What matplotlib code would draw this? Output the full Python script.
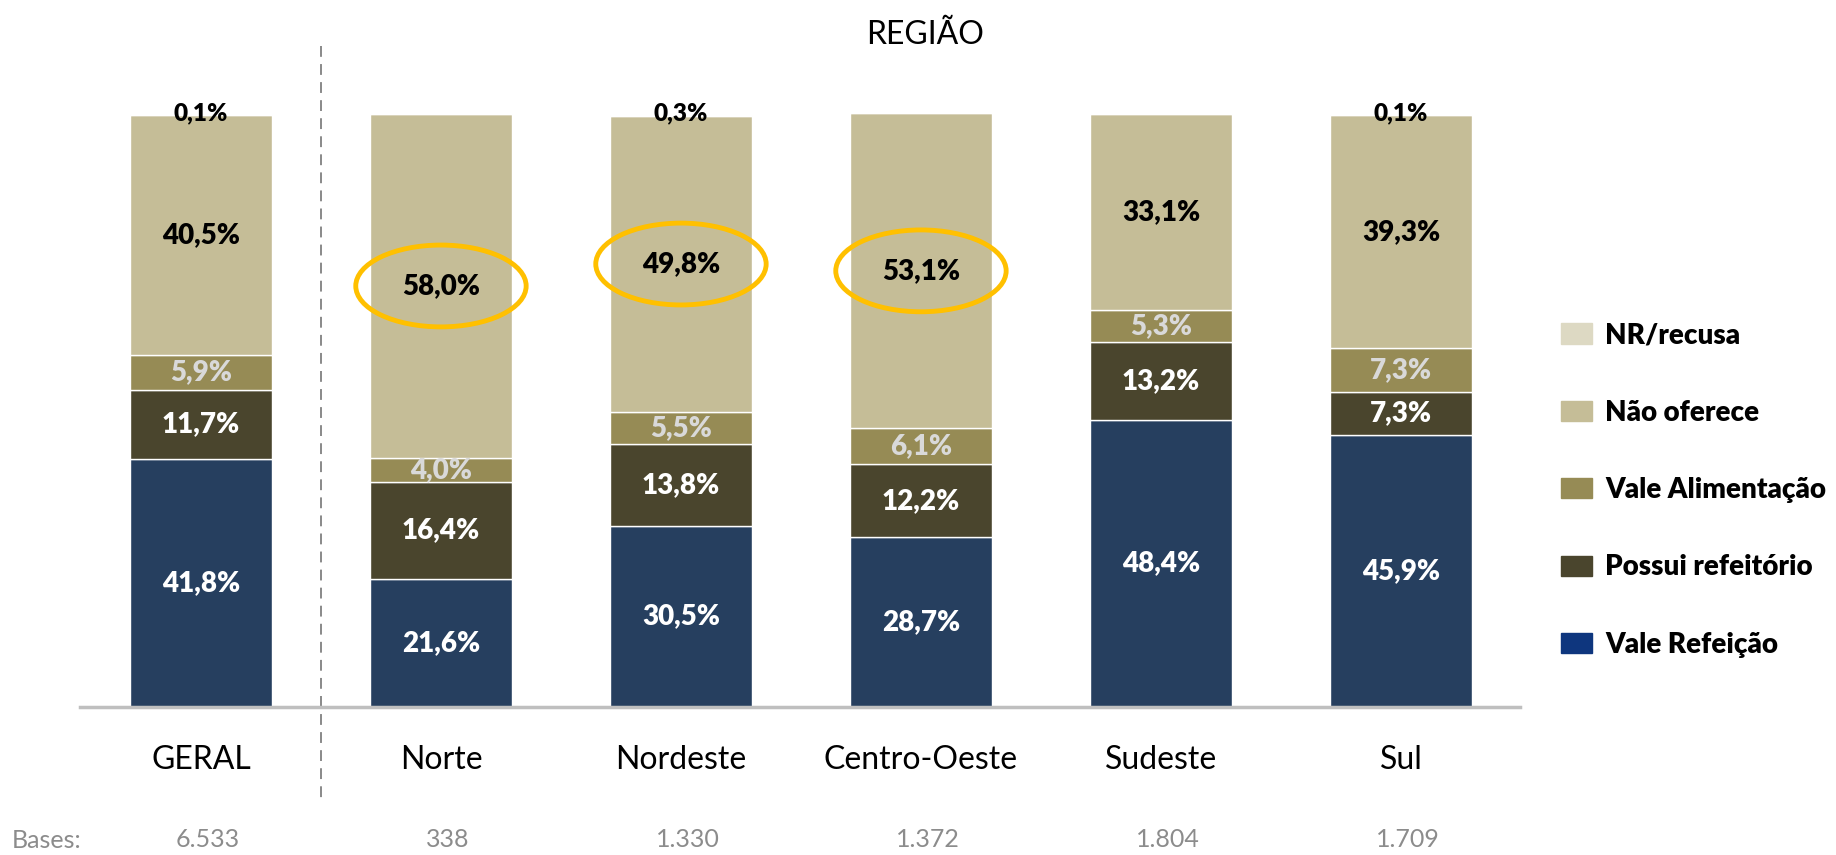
import numpy as np
import matplotlib
matplotlib.use("Agg")
from matplotlib import pyplot as plt
from matplotlib.patches import Ellipse, Patch

plt.rcParams["font.family"] = ["Lato", "DejaVu Sans"]

regioes = ["GERAL", "Norte", "Nordeste", "Centro-Oeste", "Sudeste", "Sul"]
bases = ["6.533", "338", "1.330", "1.372", "1.804", "1.709"]
vale_refeicao = [41.8, 21.6, 30.5, 28.7, 48.4, 45.9]
possui_refeitorio = [11.7, 16.4, 13.8, 12.2, 13.2, 7.3]
vale_alimentacao = [5.9, 4.0, 5.5, 6.1, 5.3, 7.3]
nao_oferece = [40.5, 58.0, 49.8, 53.1, 33.1, 39.3]
nr_recusa = [0.1, 0.0, 0.3, 0.0, 0.0, 0.1]
destaque = ["Norte", "Nordeste", "Centro-Oeste"]

series = [
    ("Vale Refeição", vale_refeicao, "#263F5F", "#0E367E", "white"),
    ("Possui refeitório", possui_refeitorio, "#4A452D", "#4A452D", "white"),
    ("Vale Alimentação", vale_alimentacao, "#968B55", "#968B55", "#D9D9D9"),
    ("Não oferece", nao_oferece, "#C5BD97", "#C5BD97", "black"),
    ("NR/recusa", nr_recusa, "#DDD9C3", "#DDD9C3", "black"),
]

fig = plt.figure(figsize=(18.36, 8.55), dpi=100)
ax = fig.add_axes([80 / 1836, 1 - 707 / 855, 1440 / 1836, 593 / 855])

x = np.arange(len(regioes))
base = np.zeros(len(regioes))
for nome, vals, cor, _, cor_txt in series:
    vals = np.array(vals)
    ax.bar(x, vals, width=0.59, bottom=base, color=cor, edgecolor="white", linewidth=1)
    for i, v in enumerate(vals):
        if v <= 0:
            continue
        txt = f"{v:.1f}%".replace(".", ",")
        if nome == "NR/recusa":
            ax.text(x[i], 100.2, txt, ha="center", va="center", fontsize=17.5,
                    fontweight="heavy", color=cor_txt, clip_on=False)
        else:
            ax.text(x[i], base[i] + v / 2, txt, ha="center", va="center",
                    fontsize=20, fontweight="heavy", color=cor_txt)
        if nome == "Não oferece" and regioes[i] in destaque:
            ax.add_patch(Ellipse((x[i], base[i] + v / 2), 0.71, 13.8, fill=False,
                                 edgecolor="#FFC000", linewidth=3.5, clip_on=False))
    base += vals

ax.set_xlim(-0.504, 5.496)
ax.set_ylim(0, 100)
ax.set_yticks([])
ax.set_xticks(x, regioes, fontsize=23)
ax.tick_params(axis="x", length=0, pad=27)
for s in ["top", "right", "left"]:
    ax.spines[s].set_visible(False)
ax.spines["bottom"].set_color("#BFBFBF")
ax.spines["bottom"].set_linewidth(2.5)

ax.plot([0.5, 0.5], [111.5, -15.3], linestyle=(0, (6, 4)), color="#808080",
        linewidth=1.3, clip_on=False)

for i, b in enumerate(bases):
    ax.text(x[i] + 0.03, -22.4, b, ha="center", va="center", fontsize=18,
            color="#8C8C8C", clip_on=False)
fig.text(12 / 1836, 1 - 840 / 855, "Bases:", ha="left", va="center", fontsize=18,
         color="#8C8C8C")

fig.text(925 / 1836, 1 - 35 / 855, "REGIÃO", ha="center", va="center", fontsize=23)

handles = [Patch(color=lc, label=nome) for nome, _, _, lc, _ in series][::-1]
fig.legend(handles=handles, loc="center left", bbox_to_anchor=(1536 / 1836, 1 - 490 / 855),
           frameon=False, prop={"size": 20, "weight": "heavy"}, labelspacing=1.85,
           handlelength=1.1, handleheight=0.75, handletextpad=0.5)

plt.savefig("out.png", dpi=100)
plt.close()
